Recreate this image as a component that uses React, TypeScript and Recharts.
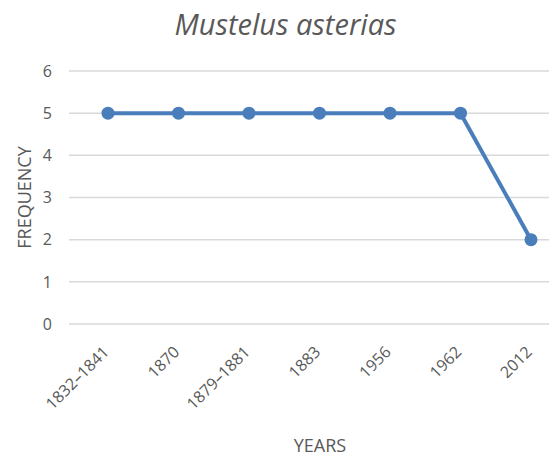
import React from 'react';
import { LineChart, Line, XAxis, YAxis, CartesianGrid } from 'recharts';

const years = ['1832–1841', '1870', '1879–1881', '1883', '1956', '1962', '2012'];
const frequency = [5, 5, 5, 5, 5, 5, 2];
const yTicks = [0, 1, 2, 3, 4, 5, 6];

const data = years.map((y, i) => ({ year: y, freq: frequency[i] }));

const FONT = '"Open Sans", "Liberation Sans", sans-serif';
const GREY = '#595959';
const BLUE = '#4a7ebb';

const XTick = (props: any) => {
  const { x, payload } = props;
  const axisY = 316;
  return (
    <text
      x={0}
      y={0}
      textAnchor="end"
      transform={`translate(${x + 2},${axisY + 29}) rotate(-45)`}
      fill={GREY}
      fontSize={16}
      fontFamily={FONT}
    >
      {payload.value}
    </text>
  );
};

export default function App() {
  return (
    <div style={{ position: 'relative', width: 549, height: 451, background: '#fff' }}>
      <div
        style={{
          position: 'absolute',
          left: 0,
          top: 0,
          width: 549,
          textAlign: 'center',
          fontFamily: FONT,
          fontStyle: 'italic',
          fontSize: 29,
          color: GREY,
          lineHeight: '32px',
          marginLeft: 3,
        }}
      >
        Mustelus asterias
      </div>
      <LineChart
        width={549}
        height={451}
        data={data}
        margin={{ top: 63, right: 0, bottom: 0, left: 0 }}
      >
        <CartesianGrid horizontal={true} vertical={false} stroke="#d9d9d9" strokeWidth={1.5} />
        <XAxis
          dataKey="year"
          axisLine={false}
          tickLine={false}
          interval={0}
          height={135}
          padding={{ left: 39, right: 26 }}
          tick={<XTick />}
          label={{
            value: 'YEARS',
            position: 'insideBottom',
            offset: 7,
            dx: 7,
            fill: GREY,
            fontSize: 18,
            fontFamily: FONT,
          }}
        />
        <YAxis
          domain={[0, 6]}
          ticks={yTicks}
          axisLine={false}
          tickLine={false}
          width={61}
          tickMargin={11}
          tick={{ fill: GREY, fontSize: 16, fontFamily: FONT }}
          label={{
            value: 'FREQUENCY',
            angle: -90,
            position: 'insideLeft',
            offset: 17,
            fill: GREY,
            fontSize: 18,
            fontFamily: FONT,
            style: { textAnchor: 'middle' },
          }}
        />
        <Line
          type="linear"
          dataKey="freq"
          stroke={BLUE}
          strokeWidth={4}
          dot={{ r: 6.5, fill: BLUE, stroke: BLUE, strokeWidth: 0 }}
          isAnimationActive={false}
        />
      </LineChart>
    </div>
  );
}
